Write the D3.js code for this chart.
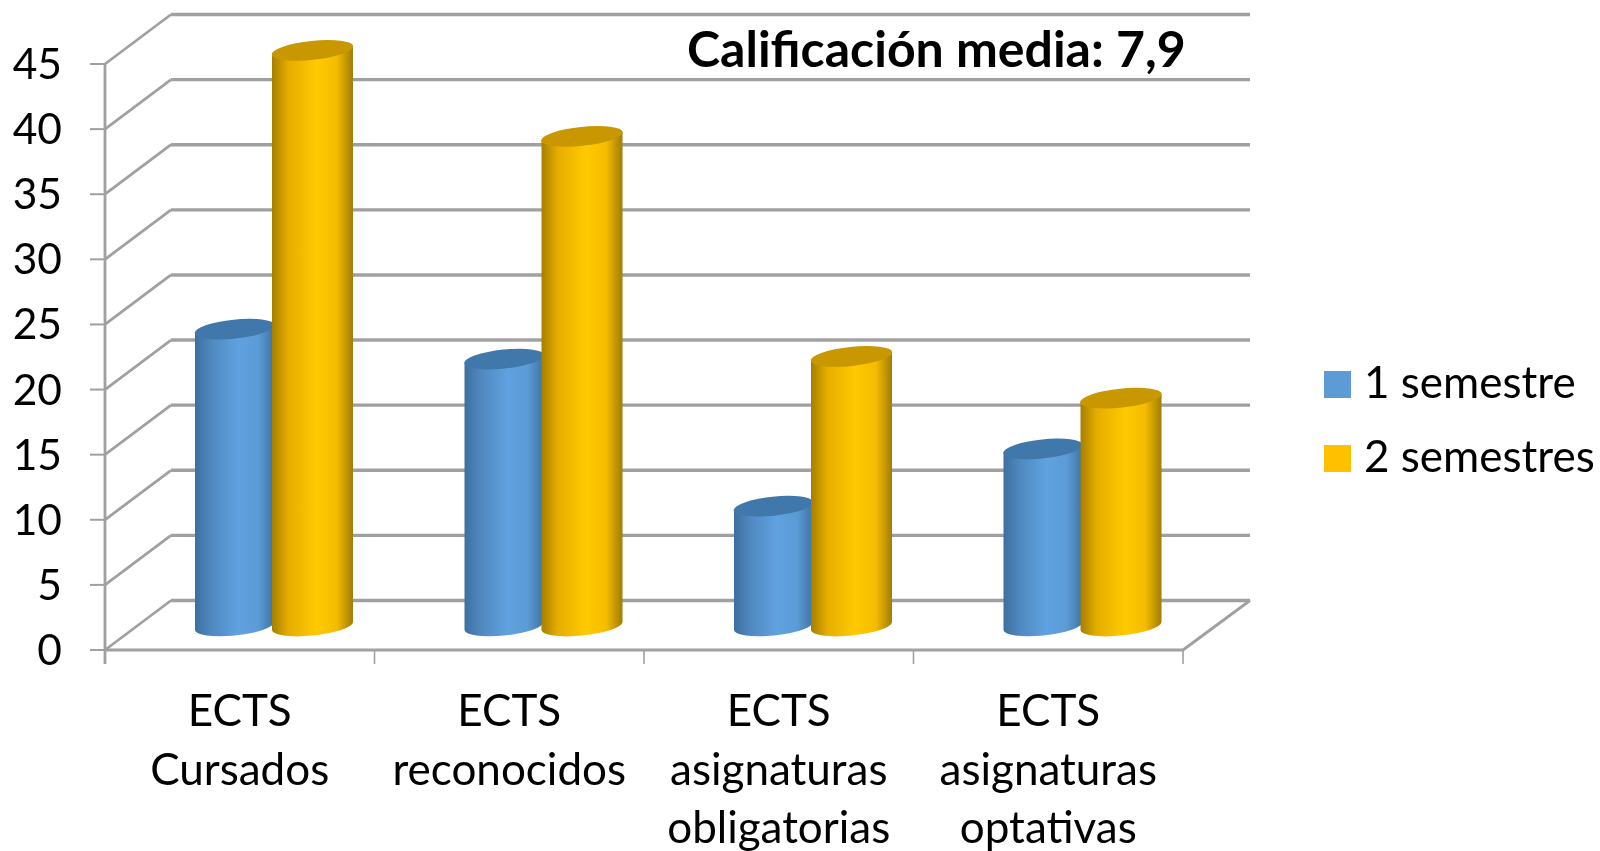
<!DOCTYPE html>
<html><head><meta charset="utf-8">
<script src="https://cdn.jsdelivr.net/npm/d3@7/dist/d3.min.js"></script>
<style>html,body{margin:0;padding:0;background:#fff}svg{display:block}text{font-family:Lato,"Open Sans",sans-serif;fill:#000}</style>
</head><body>
<svg id="c" width="1600" height="851"></svg>
<script>
const categories=[["ECTS","Cursados"],["ECTS","reconocidos"],["ECTS","asignaturas","obligatorias"],["ECTS","asignaturas","optativas"]];
const seriesNames=["1 semestre","2 semestres"];
const oneSemester=[22.8,20.5,9.2,13.6];
const twoSemesters=[44.2,37.6,20.7,17.5];
const yTicks=[0,5,10,15,20,25,30,35,40,45];
const title="Calificación media: 7,9";

const root=d3.select("#c");
const defs=root.append("defs");
defs.append("filter").attr("id","soft").attr("filterUnits","userSpaceOnUse")
  .attr("x",0).attr("y",0).attr("width",1600).attr("height",851)
  .append("feGaussianBlur").attr("stdDeviation",0.55);
const svg=root.append("g").attr("filter","url(#soft)");
const y=d3.scaleLinear().domain([0,45]).range([650,64]);
const x=d3.scaleBand().domain(d3.range(4)).range([105,1183]);
const color=d3.scaleOrdinal().domain(seriesNames).range(["#5b9bd5","#ffc000"]);
const x1=d3.scaleBand().domain(seriesNames).range([89,247]);
const depth={dx:66,dy:-49.5}, grid="#a0a0a0";
const baseShift=-24; // cylinder centre sits behind the front plane

// gradients
const stops={"#5b9bd5":["#3c6f9f","#4f88bf","#5fa2e0","#5b9bd5","#3f73a5"],"#ffc000":["#a67f00","#e6ad00","#ffca00","#f5bc00","#a07c08"]};
seriesNames.forEach((s,i)=>{
  const g=defs.append("linearGradient").attr("id","g"+i);
  stops[color(s)].forEach((c,k)=>g.append("stop").attr("offset",[0,.2,.55,.8,1][k]).attr("stop-color",c));
});

// walls
const walls=svg.append("g").attr("fill","none").attr("stroke",grid);
yTicks.forEach(t=>{
  walls.append("line").attr("x1",x.range()[0]+depth.dx).attr("x2",1250).attr("y1",y(t)+depth.dy).attr("y2",y(t)+depth.dy).attr("stroke-width",3.4);
  walls.append("line").attr("x1",x.range()[0]).attr("y1",y(t)).attr("x2",x.range()[0]+depth.dx).attr("y2",y(t)+depth.dy).attr("stroke-width",2.8);
  walls.append("line").attr("x1",90).attr("x2",105).attr("y1",y(t)).attr("y2",y(t)).attr("stroke-width",2);
});
walls.append("line").attr("x1",1183).attr("y1",y(0)).attr("x2",1250).attr("y2",y(0)+depth.dy).attr("stroke-width",2.8);
walls.append("line").attr("x1",105).attr("x2",105).attr("y1",y(45)).attr("y2",664).attr("stroke-width",2.8);
walls.append("line").attr("x1",104).attr("x2",1184).attr("y1",y(0)).attr("y2",y(0)).attr("stroke-width",3.2);
[0,1,2,3].forEach(i=>walls.append("line").attr("x1",x(i)).attr("x2",x(i)).attr("y1",650).attr("y2",664).attr("stroke-width",1.6));
walls.append("line").attr("x1",1183).attr("x2",1183).attr("y1",650).attr("y2",664).attr("stroke-width",1.6);

// cylinders
const ry=9.5, rot=-6, tilt=4;
[oneSemester,twoSemesters].forEach((vals,si)=>{
  const rx=si?40.5:39.5, nudge=si?0:1;
  vals.forEach((v,i)=>{
    const cx=x(i)+x1(seriesNames[si])+x1.bandwidth()/2+nudge;
    const top=y(v)+baseShift, bot=y(0)+baseShift;
    const g=svg.append("g");
    g.append("path").attr("fill",`url(#g${si})`)
     .attr("d",`M${cx-rx},${top+tilt}L${cx-rx},${bot+tilt}A${rx},${ry} ${rot} 0 0 ${cx+rx},${bot-tilt}L${cx+rx},${top-tilt}Z`);
    g.append("ellipse").attr("cx",cx).attr("cy",top).attr("rx",rx+.5).attr("ry",ry)
     .attr("transform",`rotate(${rot} ${cx} ${top})`).attr("fill",si?"#c99700":"#3f78ab");
  });
});

// labels
svg.append("g").selectAll("text").data(yTicks).join("text")
  .attr("x",62).attr("y",d=>y(d)+15).attr("text-anchor","end").attr("font-size",42.5).text(d=>d);
categories.forEach((lines,i)=>{
  lines.forEach((l,k)=>svg.append("text").attr("x",x(i)+x.bandwidth()/2).attr("y",726+k*58.5)
    .attr("text-anchor","middle").attr("font-size",44).text(l));
});
svg.append("text").attr("x",687).attr("y",67).attr("font-size",50).attr("font-weight",700).text(title);

// legend
seriesNames.forEach((s,i)=>{
  svg.append("rect").attr("x",1324).attr("y",371+i*74).attr("width",27).attr("height",27).attr("fill",color(s));
  svg.append("text").attr("x",1364).attr("y",398+i*74).attr("font-size",44).text(s);
});
</script>
</body></html>
